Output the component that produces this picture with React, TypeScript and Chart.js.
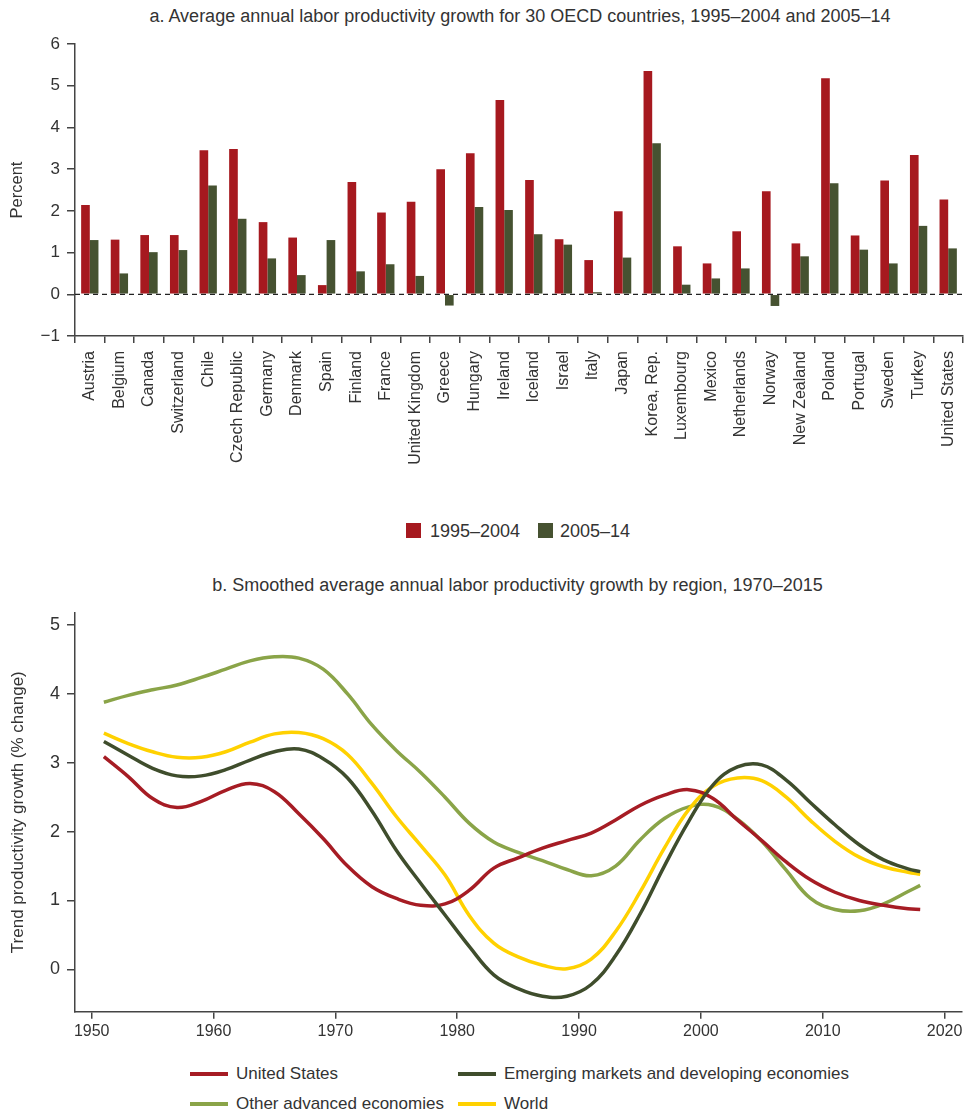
import React, { useEffect, useRef } from "react";
import { Chart, registerables } from "chart.js";
Chart.register(...registerables);

const FONT = "'Liberation Sans', Arial, sans-serif";

// ---------- Panel a ----------
const countries = [
  "Austria", "Belgium", "Canada", "Switzerland", "Chile", "Czech Republic", "Germany", "Denmark",
  "Spain", "Finland", "France", "United Kingdom", "Greece", "Hungary", "Ireland", "Iceland",
  "Israel", "Italy", "Japan", "Korea, Rep.", "Luxembourg", "Mexico", "Netherlands", "Norway",
  "New Zealand", "Poland", "Portugal", "Sweden", "Turkey", "United States",
];
const growth1995to2004 = [
  2.14, 1.31, 1.42, 1.42, 3.45, 3.48, 1.73, 1.36,
  0.22, 2.69, 1.96, 2.22, 3.0, 3.38, 4.66, 2.74,
  1.32, 0.82, 1.99, 5.35, 1.15, 0.74, 1.51, 2.47,
  1.22, 5.18, 1.41, 2.73, 3.34, 2.27,
];
const growth2005to14 = [
  1.3, 0.5, 1.01, 1.06, 2.61, 1.81, 0.86, 0.46,
  1.3, 0.55, 0.72, 0.44, -0.27, 2.09, 2.02, 1.44,
  1.19, 0.05, 0.88, 3.62, 0.23, 0.38, 0.62, -0.28,
  0.91, 2.66, 1.07, 0.74, 1.64, 1.1,
];
const yTicksA = [-1, 0, 1, 2, 3, 4, 5, 6];

// ---------- Panel b ----------
const years = [
  1951, 1953, 1955, 1957, 1959, 1961, 1963, 1965, 1967, 1969, 1971, 1973, 1975, 1977, 1979, 1981, 1983,
  1985, 1987, 1989, 1991, 1993, 1995, 1997, 1999, 2001, 2003, 2005, 2007, 2009, 2011, 2013, 2015, 2017, 2018,
];
const unitedStates = [
  3.09, 2.8, 2.48, 2.35, 2.44, 2.6, 2.7, 2.58, 2.26, 1.9, 1.5, 1.2, 1.03, 0.93, 0.95, 1.15, 1.47,
  1.62, 1.76, 1.87, 1.98, 2.17, 2.38, 2.53, 2.61, 2.48, 2.17, 1.87, 1.56, 1.3, 1.12, 1.0, 0.93, 0.88, 0.87,
];
const emergingDeveloping = [
  3.31, 3.11, 2.92, 2.81, 2.81, 2.9, 3.04, 3.16, 3.2, 3.06, 2.78, 2.3, 1.73, 1.25, 0.79, 0.33, -0.08,
  -0.28, -0.39, -0.39, -0.22, 0.2, 0.8, 1.5, 2.15, 2.68, 2.94, 2.97, 2.75, 2.42, 2.1, 1.81, 1.59, 1.46, 1.42,
];
const otherAdvanced = [
  3.88, 3.98, 4.06, 4.13, 4.24, 4.36, 4.48, 4.54, 4.52, 4.36, 4.0, 3.55, 3.18, 2.86, 2.5, 2.12, 1.85,
  1.7, 1.58, 1.45, 1.36, 1.5, 1.88, 2.19, 2.36, 2.38, 2.18, 1.86, 1.44, 1.03, 0.87, 0.85, 0.95, 1.13, 1.22,
];
const world = [
  3.43, 3.28, 3.16, 3.08, 3.08, 3.16, 3.3, 3.42, 3.44, 3.35, 3.12, 2.7, 2.22, 1.8, 1.37, 0.78, 0.38,
  0.18, 0.06, 0.01, 0.15, 0.55, 1.12, 1.76, 2.32, 2.66, 2.78, 2.74, 2.5, 2.16, 1.86, 1.63, 1.49, 1.41, 1.38,
];
const xTicksB = [1950, 1960, 1970, 1980, 1990, 2000, 2010, 2020];
const yTicksB = [0, 1, 2, 3, 4, 5];

const RED_BAR = "#A6191F";
const GREEN_BAR = "#465231";
const C_US = "#A61C24";
const C_EMDE = "#3F4D2C";
const C_OTHER = "#8AA448";
const C_WORLD = "#FFD100";
const AXIS = "#444";
const TEXT = "#333";

const minusFmt = (v: any) => (Number(v) < 0 ? "\u2212" + Math.abs(Number(v)) : String(v));

const zeroLine = {
  id: "zeroLine",
  afterDatasetsDraw(chart: any) {
    const { ctx, chartArea, scales } = chart;
    const yy = scales.y.getPixelForValue(0);
    ctx.save();
    ctx.strokeStyle = "#222";
    ctx.lineWidth = 1.3;
    ctx.setLineDash([5, 4]);
    ctx.beginPath();
    ctx.moveTo(chartArea.left, yy);
    ctx.lineTo(chartArea.right, yy);
    ctx.stroke();
    ctx.restore();
  },
};

const CANVAS_A_H = 520;
const CANVAS_B_TOP = 600;
const CANVAS_B_H = 450;

export default function App() {
  const refA = useRef<HTMLCanvasElement | null>(null);
  const refB = useRef<HTMLCanvasElement | null>(null);

  useEffect(() => {
    Chart.defaults.font.family = FONT;
    const chartA = new Chart(refA.current as HTMLCanvasElement, {
      type: "bar",
      data: {
        labels: countries,
        datasets: [
          { label: "1995–2004", data: growth1995to2004, backgroundColor: RED_BAR, borderWidth: 0 },
          { label: "2005–14", data: growth2005to14, backgroundColor: GREEN_BAR, borderWidth: 0 },
        ],
      },
      options: {
        responsive: false,
        animation: false,
        maintainAspectRatio: false,
        layout: { padding: { top: 44, right: 6, left: 0, bottom: 0 } },
        datasets: { bar: { categoryPercentage: 0.585, barPercentage: 1.0 } },
        plugins: { legend: { display: false }, tooltip: { enabled: false }, title: { display: false } },
        scales: {
          x: {
            type: "category",
            grid: { display: true, drawOnChartArea: false, drawTicks: true, tickLength: 7, color: AXIS, lineWidth: 1.5, offset: true },
            border: { display: true, color: AXIS, width: 1.5 },
            ticks: { autoSkip: false, minRotation: 90, maxRotation: 90, padding: 8, color: TEXT, font: { size: 16 } },
            afterFit(s: any) {
              s.height = CANVAS_A_H - 336;
              s.paddingLeft = 0;
              s.paddingRight = 0;
            },
          },
          y: {
            min: -1,
            max: 6,
            afterBuildTicks(s: any) {
              s.ticks = yTicksA.map((v) => ({ value: v }));
            },
            grid: { drawOnChartArea: false, drawTicks: true, tickLength: 8, color: AXIS, lineWidth: 1.5 },
            border: { display: true, color: AXIS, width: 1.5 },
            ticks: { padding: 7, color: TEXT, font: { size: 17 }, callback: minusFmt },
            title: { display: true, text: "Percent", color: TEXT, font: { size: 16.5 }, padding: { top: 7.6, bottom: 0 } },
            afterFit(s: any) {
              s.width = 75;
              s.paddingTop = 0;
              s.paddingBottom = 0;
            },
          },
        },
      } as any,
      plugins: [zeroLine],
    });

    const pts = (vals: number[]) => vals.map((v, i) => ({ x: years[i], y: v }));
    const lineDs = (label: string, vals: number[], color: string) => ({
      label,
      data: pts(vals),
      borderColor: color,
      backgroundColor: color,
      borderWidth: 3.5,
      pointRadius: 0,
      tension: 0.4,
      fill: false,
    });

    const chartB = new Chart(refB.current as HTMLCanvasElement, {
      type: "line",
      data: {
        datasets: [
          lineDs("Emerging markets and developing economies", emergingDeveloping, C_EMDE),
          lineDs("United States", unitedStates, C_US),
          lineDs("World", world, C_WORLD),
          lineDs("Other advanced economies", otherAdvanced, C_OTHER),
        ],
      },
      options: {
        responsive: false,
        animation: false,
        maintainAspectRatio: false,
        layout: { padding: { top: 612.7 - CANVAS_B_TOP, right: 7, left: 0, bottom: 0 } },
        plugins: { legend: { display: false }, tooltip: { enabled: false }, title: { display: false } },
        scales: {
          x: {
            type: "linear",
            min: 1948.63,
            max: 2021.43,
            afterBuildTicks(s: any) {
              s.ticks = xTicksB.map((v) => ({ value: v }));
            },
            grid: { drawOnChartArea: false, drawTicks: true, tickLength: 7, color: AXIS, lineWidth: 1.5 },
            border: { display: true, color: AXIS, width: 1.5 },
            ticks: { padding: 3, color: TEXT, font: { size: 16 }, maxRotation: 0, autoSkip: false, callback: (v: any) => String(v) },
            afterFit(s: any) {
              s.height = CANVAS_B_TOP + CANVAS_B_H - 1011.7;
              s.paddingLeft = 0;
              s.paddingRight = 0;
            },
          },
          y: {
            min: -0.615,
            max: 5.18,
            afterBuildTicks(s: any) {
              s.ticks = yTicksB.map((v) => ({ value: v }));
            },
            grid: { drawOnChartArea: false, drawTicks: true, tickLength: 8, color: AXIS, lineWidth: 1.5 },
            border: { display: true, color: AXIS, width: 1.5 },
            ticks: { padding: 7, color: TEXT, font: { size: 18 }, callback: minusFmt },
            title: {
              display: true,
              text: "Trend productivity growth (% change)",
              color: TEXT,
              font: { size: 17 },
              padding: { top: 8.5, bottom: 0 },
            },
            afterFit(s: any) {
              s.width = 75;
              s.paddingTop = 0;
              s.paddingBottom = 0;
            },
          },
        },
      } as any,
    });

    return () => {
      chartA.destroy();
      chartB.destroy();
    };
  }, []);

  const txt: React.CSSProperties = {
    position: "absolute",
    fontFamily: FONT,
    color: TEXT,
    whiteSpace: "nowrap",
  };

  const lineSwatch = (left: number, top: number, color: string) => (
    <div style={{ position: "absolute", left, top: top - 2, width: 38, height: 4, background: color }} />
  );
  const legendText = (left: number, center: number, text: string) => (
    <div style={{ ...txt, left, top: center - 10, fontSize: 17, lineHeight: "20px" }}>{text}</div>
  );

  return (
    <div style={{ position: "absolute", left: 0, top: 0, width: 969, height: 1116, background: "#fff", overflow: "hidden" }}>
      <div style={{ ...txt, left: 520, top: 7, fontSize: 18, lineHeight: "18px", transform: "translateX(-50%)" }}>
        a. Average annual labor productivity growth for 30 OECD countries, 1995–2004 and 2005–14
      </div>
      <canvas ref={refA} width={969} height={CANVAS_A_H} style={{ position: "absolute", left: 0, top: 0 }} />

      <div style={{ position: "absolute", left: 406, top: 523, width: 15, height: 15, background: RED_BAR }} />
      <div style={{ ...txt, left: 430, top: 522, fontSize: 18, lineHeight: "18px" }}>1995–2004</div>
      <div style={{ position: "absolute", left: 538, top: 523, width: 15, height: 15, background: GREEN_BAR }} />
      <div style={{ ...txt, left: 560, top: 522, fontSize: 18, lineHeight: "18px" }}>2005–14</div>

      <div style={{ ...txt, left: 517.5, top: 576, fontSize: 18, lineHeight: "18px", transform: "translateX(-50%)" }}>
        b. Smoothed average annual labor productivity growth by region, 1970–2015
      </div>
      <canvas ref={refB} width={969} height={CANVAS_B_H} style={{ position: "absolute", left: 0, top: CANVAS_B_TOP }} />

      {lineSwatch(190, 1074, C_US)}
      {legendText(236, 1074, "United States")}
      {lineSwatch(458, 1074, C_EMDE)}
      {legendText(504, 1074, "Emerging markets and developing economies")}
      {lineSwatch(190, 1104, C_OTHER)}
      {legendText(236, 1104, "Other advanced economies")}
      {lineSwatch(458, 1104, C_WORLD)}
      {legendText(504, 1104, "World")}
    </div>
  );
}
